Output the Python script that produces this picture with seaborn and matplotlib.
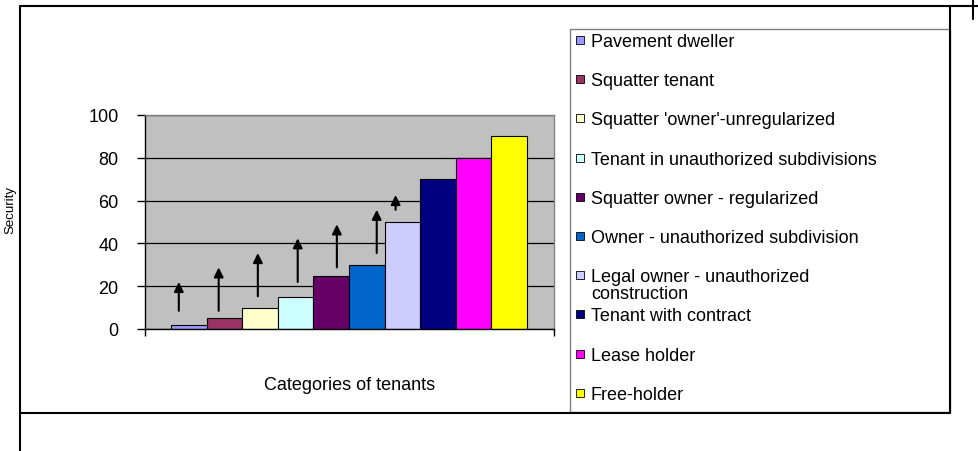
import numpy as np
import pandas as pd
import matplotlib.pyplot as plt
import seaborn as sns
from matplotlib.lines import Line2D
from matplotlib.patches import Rectangle

sns.set_theme(style="white")
plt.rcParams['font.family'] = ['Liberation Sans', 'DejaVu Sans']
plt.rcParams['text.color'] = 'black'
plt.rcParams['axes.labelcolor'] = 'black'
plt.rcParams['xtick.color'] = 'black'
plt.rcParams['ytick.color'] = 'black'

# Data
categories = ['Pavement dweller', 'Squatter tenant', "Squatter 'owner'-unregularized",
              'Tenant in unauthorized subdivisions', 'Squatter owner - regularized',
              'Owner - unauthorized subdivision', 'Legal owner - unauthorized\nconstruction',
              'Tenant with contract', 'Lease holder', 'Free-holder']
security = [2, 5, 10, 15, 25, 30, 50, 70, 80, 90]
colors = ['#9999FF', '#993366', '#FFFFCC', '#CCFFFF', '#660066',
          '#0066CC', '#CCCCFF', '#000080', '#FF00FF', '#FFFF00']
y_ticks = [0, 20, 40, 60, 80, 100]

# Arrows drawn over the bars (x in bar index units, y in security units)
arrow_x = [-0.28, 0.84, 1.94, 3.06, 4.16, 5.28, 5.81]
arrow_lo = [8.5, 8.5, 15.3, 22.0, 28.8, 35.5, 55.7]
arrow_hi = [22.0, 28.8, 35.5, 42.4, 48.9, 55.7, 62.6]

W, H = 979, 452
fig = plt.figure(figsize=(W / 100, H / 100), dpi=100)


def fx(px):
    return px / W


def fy(py):
    return 1 - py / H


# Plot area
ax = fig.add_axes([fx(145), fy(330), fx(554) - fx(145), fy(116) - fy(330)])
ax.set_facecolor('#C0C0C0')

df = pd.DataFrame({'category': categories, 'security': security})
sns.barplot(data=df, x='category', y='security', hue='category', palette=colors,
            order=categories, hue_order=categories, width=1, dodge=False,
            saturation=1, legend=False, edgecolor='black', linewidth=0.8, ax=ax)

xmin, xmax = -1.23, 10.26
ax.set_xlim(xmin, xmax)
ax.set_ylim(0, 100)
ax.set_yticks(y_ticks)
ax.set_yticklabels([str(t) for t in y_ticks], fontsize=13)
ax.set_xticks([xmin, xmax])
ax.set_xticklabels(['', ''])
ax.tick_params(axis='y', direction='out', length=6, width=1, color='black', pad=13, left=True)
ax.tick_params(axis='x', direction='out', length=5, width=1, color='black', bottom=True)

ax.set_axisbelow(True)
ax.yaxis.grid(True, color='black', linewidth=0.9)
for side in ['top', 'right']:
    ax.spines[side].set_color('#808080')
    ax.spines[side].set_linewidth(1)
for side in ['left', 'bottom']:
    ax.spines[side].set_color('black')
    ax.spines[side].set_linewidth(1)

ax.set_ylabel('')
ax.set_xlabel('Categories of tenants', fontsize=13, va='center')
ax.xaxis.set_label_coords(0.5, (330 - 386) / 214)

# Arrows
for x, lo, hi in zip(arrow_x, arrow_lo, arrow_hi):
    ax.annotate('', xy=(x, hi), xytext=(x, lo),
                arrowprops=dict(arrowstyle='-|>', color='black', lw=1.5,
                                mutation_scale=14, shrinkA=0, shrinkB=0))

fig.text(fx(10), fy(210), 'Security', rotation=90, fontsize=9.5, ha='center', va='center')

# Outer chart frame
frame = [((20, 979), (6.5, 6.5)), ((20, 20), (6.5, 452)), ((20, 950), (413.5, 413.5)),
         ((950, 950), (6.5, 413.5)), ((973, 973), (0, 20))]
for xs, ys in frame:
    fig.add_artist(Line2D([fx(x) for x in xs], [fy(y) for y in ys],
                          transform=fig.transFigure, color='black', lw=1.5))

# Legend box
fig.add_artist(Rectangle((fx(570), fy(413)), fx(950) - fx(570), fy(29.5) - fy(413),
                         transform=fig.transFigure, facecolor='white',
                         edgecolor='#808080', lw=1, zorder=0))
for i, (lab, col) in enumerate(zip(categories, colors)):
    yc = 43 + 39.2 * i
    fig.add_artist(Rectangle((fx(576), fy(yc + 2)), fx(8), fy(0) - fy(8),
                             transform=fig.transFigure, facecolor=col,
                             edgecolor='black', lw=0.6))
    fig.text(fx(591), fy(yc - 9), lab, fontsize=13, ha='left', va='top', linespacing=1.0)

plt.savefig('out.png', dpi=100)
plt.close()
